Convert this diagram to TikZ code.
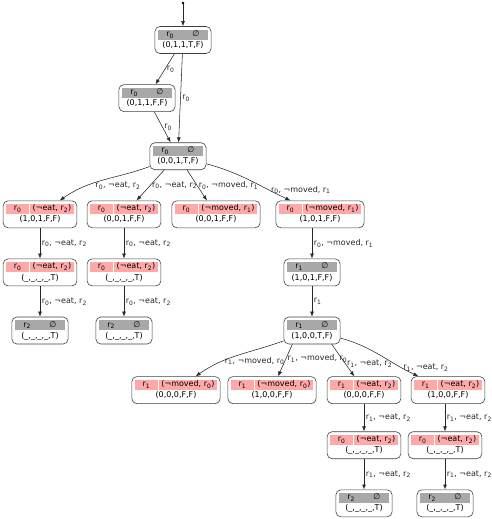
\documentclass[tikz,border=0pt]{standalone}
\usepackage{fontspec}
\setmainfont{DejaVu Sans}
\usepackage{tikz}
\usetikzlibrary{arrows.meta, positioning}

\definecolor{cellgray}{HTML}{A8A8A8}
\definecolor{cellpink}{HTML}{FFA8A8}

\newcommand{\rr}[1]{r\textsubscript{#1}}
\newcommand{\topcell}[2]{{\setlength{\fboxsep}{0.6pt}\colorbox{#1}{\rule[-2.4pt]{0pt}{8.8pt}#2}}}
% robot, tuple
\newcommand{\emptyst}[2]{\begin{tabular}{@{}c@{}}\topcell{cellgray}{\makebox[23.5pt]{#1}}\hspace{0.8pt}\topcell{cellgray}{\makebox[23.5pt]{∅}}\\[1.5pt]#2\end{tabular}}
% robot, obligation, tuple
\newcommand{\waitst}[3]{\begin{tabular}{@{}c@{}}\topcell{cellpink}{\makebox[22pt]{#1}}\hspace{0.8pt}\topcell{cellpink}{\hspace{2pt}#2\hspace{2pt}}\\[1.5pt]#3\end{tabular}}
\newcommand{\anyst}{(\_,\_,\_,\_,T)}

\begin{document}
\begin{tikzpicture}[
    x=1pt, y=1pt,
    node distance=30.5pt,
    font=\fontsize{8}{9.6}\selectfont,
    state/.style={
        rectangle, rounded corners=5pt, draw=black!75, line width=0.6pt,
        inner sep=3pt, minimum height=27pt, align=center
    },
    dot/.style={circle, fill=black, inner sep=0pt, minimum size=2.6pt},
    edge/.style={-{Latex[length=5pt,width=3.8pt]}, line width=0.55pt, draw=black!85},
    lbl/.style={inner sep=1.5pt, text=black!85}
]
\useasboundingbox (0,0) rectangle (491,-519);

% Start
\node[dot] (init) at (183,-3) {};
\node[state] (n0) at (183,-40) {\emptyst{\rr0}{(0,1,1,T,F)}};
\node[state, below=of n0, xshift=-36pt] (n1) {\emptyst{\rr0}{(0,1,1,F,F)}};
\node[state, below=of n1, xshift=31pt] (n2) {\emptyst{\rr0}{(0,0,1,T,F)}};

% Branches of r0
\node[state, below=of n2, xshift=-138pt] (a1) {\waitst{\rr0}{(¬eat, \rr2)}{(1,0,1,F,F)}};
\node[state, below=of n2, xshift=-54pt] (a2) {\waitst{\rr0}{(¬eat, \rr2)}{(0,0,1,F,F)}};
\node[state, below=of n2, xshift=38pt] (a3) {\waitst{\rr0}{(¬moved, \rr1)}{(0,0,1,F,F)}};
\node[state, below=of n2, xshift=142pt] (a4) {\waitst{\rr0}{(¬moved, \rr1)}{(1,0,1,F,F)}};
\node[state, below=of a1] (b1) {\waitst{\rr0}{(¬eat, \rr2)}{\anyst}};
\node[state, below=of a2] (b2) {\waitst{\rr0}{(¬eat, \rr2)}{\anyst}};
\node[state, below=of b1] (c1) {\emptyst{\rr2}{\anyst}};
\node[state, below=of b2] (c2) {\emptyst{\rr2}{\anyst}};

% Hand over to r1
\node[state, below=of a4, xshift=-8pt] (d1) {\emptyst{\rr1}{(1,0,1,F,F)}};
\node[state, below=of d1] (d2) {\emptyst{\rr1}{(1,0,0,T,F)}};

% Branches of r1
\node[state, below=32pt of d2, xshift=-136pt] (e1) {\waitst{\rr1}{(¬moved, \rr0)}{(0,0,0,F,F)}};
\node[state, below=32pt of d2, xshift=-40pt] (e2) {\waitst{\rr1}{(¬moved, \rr0)}{(1,0,0,F,F)}};
\node[state, below=32pt of d2, xshift=52pt] (e3) {\waitst{\rr1}{(¬eat, \rr2)}{(0,0,0,F,F)}};
\node[state, below=32pt of d2, xshift=136pt] (e4) {\waitst{\rr1}{(¬eat, \rr2)}{(1,0,0,F,F)}};
\node[state, below=27.5pt of e3] (f1) {\waitst{\rr0}{(¬eat, \rr2)}{\anyst}};
\node[state, below=27.5pt of e4, xshift=-3pt] (f2) {\waitst{\rr0}{(¬eat, \rr2)}{\anyst}};
\node[state, below=of f1] (g1) {\emptyst{\rr2}{\anyst}};
\node[state, below=of f2] (g2) {\emptyst{\rr2}{\anyst}};

% Edges
\draw[edge] (init) -- (n0);
\draw[edge] (n0) -- node[lbl, right] {\rr0} (n1);
\draw[edge] (n0) -- node[lbl, right] {\rr0} (n2);
\draw[edge] (n1) -- node[lbl, right] {\rr0} (n2);

\draw[edge] (n2) to[out=200, in=35] node[lbl, pos=0.68, anchor=west, xshift=6pt] {\rr0, ¬eat, \rr2} (a1);
\draw[edge] (n2.225) -- node[lbl, anchor=west] {\rr0, ¬eat, \rr2} (a2);
\draw[edge] (n2) -- node[lbl, anchor=west] {\rr0, ¬moved, \rr1} (a3);
\draw[edge] (n2) to[out=-15, in=155] node[lbl, pos=0.76, anchor=west] {\rr0, ¬moved, \rr1} (a4);

\draw[edge] (a1) -- node[lbl, right] {\rr0, ¬eat, \rr2} (b1);
\draw[edge] (b1) -- node[lbl, right] {\rr0, ¬eat, \rr2} (c1);
\draw[edge] (a2) -- node[lbl, right] {\rr0, ¬eat, \rr2} (b2);
\draw[edge] (b2) -- node[lbl, right] {\rr0, ¬eat, \rr2} (c2);

\draw[edge] (a4.south -| d1) -- node[lbl, right] {\rr0, ¬moved, \rr1} (d1);
\draw[edge] (d1) -- node[lbl, right] {\rr1} (d2);

\draw[edge] (d2) to[out=200, in=35] node[lbl, pos=0.68, anchor=west] {\rr1, ¬moved, \rr0} (e1);
\draw[edge] (d2.215) -- node[lbl, pos=0.45, anchor=west] {\rr1, ¬moved, \rr0} (e2);
\draw[edge] (d2.-35) -- node[lbl, pos=0.6, anchor=west] {\rr1, ¬eat, \rr2} (e3);
\draw[edge] (d2) to[out=-15, in=155] node[lbl, pos=0.8, anchor=west] {\rr1, ¬eat, \rr2} (e4);

\draw[edge] (e3) -- node[lbl, right] {\rr1, ¬eat, \rr2} (f1);
\draw[edge] (f1) -- node[lbl, right] {\rr1, ¬eat, \rr2} (g1);
\draw[edge] (e4.south -| f2) -- node[lbl, right] {\rr1, ¬eat, \rr2} (f2);
\draw[edge] (f2) -- node[lbl, right] {\rr1, ¬eat, \rr2} (g2);

\end{tikzpicture}
\end{document}
